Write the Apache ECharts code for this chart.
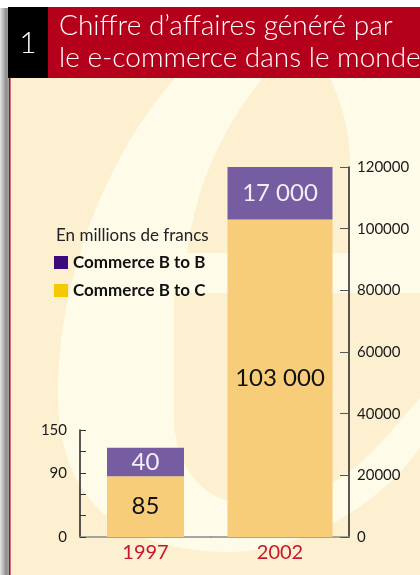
<!DOCTYPE html>
<html>
<head>
<meta charset="utf-8">
<script src="https://cdn.jsdelivr.net/npm/echarts@6/dist/echarts.min.js"></script>
<style>
  html, body { margin: 0; padding: 0; background: #fff; }
  #chart { width: 420px; height: 575px; }
</style>
</head>
<body>
<div id="chart"></div>
<script>
// data
const years = ["1997", "2002"];
const b2c = [85, 103000];     // Commerce B to C (bottom)
const b2b = [40, 17000];      // Commerce B to B (top)
const leftTicks = [0, 90, 150];
const seriesNames = ["Commerce B to B", "Commerce B to C"];

const BEIGE = "#fdf0d0";
const LIGHT = "#fffbe9";
const PURPLE = "#765ca0";
const ORANGE = "#f8cd7a";
const RED = "#b4001b";
const FONT = "Lato";

function fmt(v) {
	return String(v).replace(/\B(?=(\d{3})+(?!\d))/g, " ");
}

// turns a list of [x,y] / ["C", c1, c2, end] steps into polygon points
function outline(start, steps) {
	const pts = [start];
	let cur = start;
	steps.forEach(s => {
		if (s[0] === "C") {
			const p0 = cur, p1 = s[1], p2 = s[2], p3 = s[3];
			for (let i = 1; i <= 16; i++) {
				const t = i / 16, u = 1 - t;
				pts.push([
					u * u * u * p0[0] + 3 * u * u * t * p1[0] + 3 * u * t * t * p2[0] + t * t * t * p3[0],
					u * u * u * p0[1] + 3 * u * u * t * p1[1] + 3 * u * t * t * p2[1] + t * t * t * p3[1]
				]);
			}
			cur = p3;
		} else {
			pts.push(s);
			cur = s;
		}
	});
	return pts;
}

const chart = echarts.init(document.getElementById("chart"));

// watermark "e"
const eOuter = outline([175, 78], [
	["C", [110, 150], [55, 280], [58, 400]],
	["C", [60, 500], [120, 552], [230, 552]],
	["C", [300, 552], [380, 505], [420, 448]],
	[420, 78]
]);
const eTop = outline([263, 78], [
	[330, 78],
	["C", [345, 110], [350, 140], [350, 165]],
	[350, 253],
	[187, 253],
	["C", [195, 190], [220, 130], [263, 78]]
]);
const eBottom = outline([174, 293], [
	[420, 293],
	[420, 398],
	["C", [390, 432], [362, 468], [332, 483]],
	["C", [300, 496], [270, 503], [240, 503]],
	["C", [200, 500], [175, 462], [174, 420]]
]);

const decor = [
	{ type: "rect", z: -30, shape: { x: 9, y: 78, width: 411, height: 497 }, style: { fill: BEIGE } },
	{ type: "polygon", z: -29, shape: { points: eOuter }, style: { fill: LIGHT } },
	{ type: "polygon", z: -28, shape: { points: eTop }, style: { fill: BEIGE } },
	{ type: "polygon", z: -28, shape: { points: eBottom }, style: { fill: BEIGE } },
	{
		type: "rect", z: -27,
		shape: { x: 0, y: 8, width: 9, height: 567 },
		style: {
			fill: {
				type: "linear", x: 0, y: 0, x2: 1, y2: 0,
				colorStops: [
					{ offset: 0, color: "#e4e4e4" },
					{ offset: 0.7, color: "#8c8c8c" },
					{ offset: 1, color: "#a8a8a8" }
				]
			}
		}
	},
	{ type: "rect", z: -26, shape: { x: 9, y: 78, width: 1.5, height: 497 }, style: { fill: RED } },
	{ type: "rect", z: 50, shape: { x: 48, y: 7, width: 372, height: 71 }, style: { fill: RED } },
	{ type: "rect", z: 50, shape: { x: 8, y: 7, width: 40, height: 71 }, style: { fill: "#000" } },
	{
		type: "text", z: 51, x: 28, y: 43,
		style: { text: "1", fill: "#fff", font: "300 30px '" + FONT + "'", align: "center", verticalAlign: "middle" }
	},
	{
		type: "text", z: 51, x: 59, y: 26,
		style: { text: "Chiffre d’affaires généré par", fill: "#fff", font: "300 28px '" + FONT + "'", verticalAlign: "middle" }
	},
	{
		type: "text", z: 51, x: 59, y: 58,
		style: { text: "le e-commerce dans le monde", fill: "#fff", font: "300 28px '" + FONT + "'", verticalAlign: "middle" }
	},
	{
		type: "text", z: 10, x: 56, y: 236,
		style: { text: "En millions de francs", fill: "#222", font: "17px '" + FONT + "'", verticalAlign: "middle" }
	}
];

const axisLabelStyle = { color: "#1a1a1a", fontSize: 15, fontFamily: FONT };

function barSeries(name, color, data, idx, width, labelColor) {
	return {
		name: name,
		type: "bar",
		stack: "s" + idx,
		xAxisIndex: idx,
		yAxisIndex: idx,
		barWidth: width,
		data: [data[idx]],
		itemStyle: { color: color },
		label: {
			show: true,
			position: "inside",
			formatter: p => fmt(p.value),
			color: labelColor,
			fontSize: 24,
			fontFamily: FONT
		}
	};
}

const option = {
	animation: false,
	graphic: decor,
	legend: {
		left: 54,
		top: 254,
		orient: "vertical",
		selectedMode: false,
		icon: "rect",
		itemWidth: 14,
		itemHeight: 13,
		itemGap: 11,
		padding: 0,
		textStyle: { fontSize: 17, fontWeight: "bold", color: "#111", fontFamily: FONT, lineHeight: 15 },
		data: [
			{ name: seriesNames[0], itemStyle: { color: "#3c0a7a" } },
			{ name: seriesNames[1], itemStyle: { color: "#f5c900" } }
		]
	},
	grid: [
		{ left: 80, top: 430, width: 131, height: 107 },
		{ left: 211, top: 167, width: 138, height: 370 }
	],
	xAxis: years.map((y, i) => ({
		type: "category",
		gridIndex: i,
		data: [y],
		axisLine: { lineStyle: { color: "#8a8a8a", width: 1.5 } },
		axisTick: { show: false },
		axisLabel: { color: "#c4182f", fontSize: 20, fontFamily: FONT, margin: 6 }
	})),
	yAxis: [
		{
			type: "value",
			gridIndex: 0,
			min: 0,
			max: 150,
			interval: 30,
			axisLine: { show: true, lineStyle: { color: "#222", width: 1.5 } },
			axisTick: { show: true, inside: true, length: 6, lineStyle: { color: "#333" } },
			axisLabel: Object.assign({ margin: 13, formatter: v => (leftTicks.indexOf(v) >= 0 ? String(v) : "") }, axisLabelStyle),
			splitLine: { show: false }
		},
		{
			type: "value",
			gridIndex: 1,
			position: "right",
			min: 0,
			max: 120000,
			interval: 20000,
			axisLine: { show: true, lineStyle: { color: "#222", width: 1.5 } },
			axisTick: { show: true, inside: true, length: 9, lineStyle: { color: "#555" } },
			axisLabel: Object.assign({ margin: 8, formatter: v => String(v) }, axisLabelStyle),
			splitLine: { show: false }
		}
	],
	series: [
		barSeries(seriesNames[1], ORANGE, b2c, 0, 77, "#111"),
		barSeries(seriesNames[0], PURPLE, b2b, 0, 77, "#f2eef8"),
		barSeries(seriesNames[1], ORANGE, b2c, 1, 105, "#111"),
		barSeries(seriesNames[0], PURPLE, b2b, 1, 105, "#f2eef8")
	]
};

chart.setOption(option);
</script>
</body>
</html>
